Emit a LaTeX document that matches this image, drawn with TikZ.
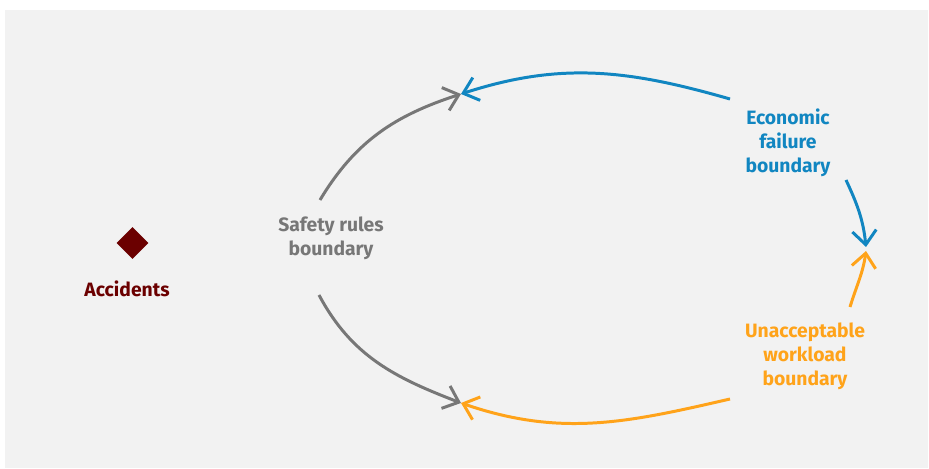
\documentclass[tikz,border=0pt]{standalone}
\usepackage{fontspec}
\setmainfont{Fira Sans}
\usetikzlibrary{arrows.meta,positioning,shapes.geometric}
\definecolor{econblue}{HTML}{1186C1}
\definecolor{workorange}{HTML}{FFA31A}
\definecolor{rulegray}{HTML}{777777}
\definecolor{accred}{HTML}{6B0000}
\definecolor{panelgray}{HTML}{F2F2F2}

\begin{document}
\begin{tikzpicture}[
    x=0.02cm, y=0.02cm,
    boundtext/.style={font=\fontsize{11}{13.6}\selectfont\bfseries, align=center, inner sep=2pt},
    boundary/.style={line width=1.7pt, -{Straight Barb[length=0.28cm, width=0.48cm]}}
  ]
    \useasboundingbox (0,0) rectangle (929,469);
    \fill[panelgray] (5,1) rectangle (928,459);

    \node[diamond, fill=accred, inner sep=0pt, minimum size=0.64cm] (hazard) at (132.5,226) {};
    \node[boundtext, text=accred, below=0.35cm of hazard, xshift=-0.11cm] (accidents) {Accidents};
    \node[boundtext, text=rulegray] (safety) at (331,231) {Safety rules\\boundary};
    \node[boundtext, text=econblue] (economic) at (788,326) {Economic\\failure\\boundary};
    \node[boundtext, text=workorange] (workload) at (805,112.5) {Unacceptable\\workload\\boundary};

    \coordinate (toptip) at (461,375);
    \coordinate (bottomtip) at (461,66);
    \coordinate (econtip) at (866,222);
    \coordinate (loadtip) at (866,218);
    \coordinate (econA) at (730,370);
    \coordinate (econB) at (846,289);
    \coordinate (loadA) at (850,162);
    \coordinate (loadB) at (730,70);
    \coordinate (ruleA) at (320,269);
    \coordinate (ruleB) at (319,174);

    \draw[boundary, econblue] (econA) to[out=164, in=18] (toptip);
    \draw[boundary, econblue] (econB) to[out=-65, in=96] (econtip);
    \draw[boundary, workorange] (loadA) to[out=73, in=-98] (loadtip);
    \draw[boundary, workorange] (loadB) to[out=-167, in=-19] (bottomtip);
    \draw[boundary, rulegray] (ruleA) to[out=59, in=-162] (toptip);
    \draw[boundary, rulegray] (ruleB) to[out=-62, in=159] (bottomtip);
  \end{tikzpicture}
\end{document}
